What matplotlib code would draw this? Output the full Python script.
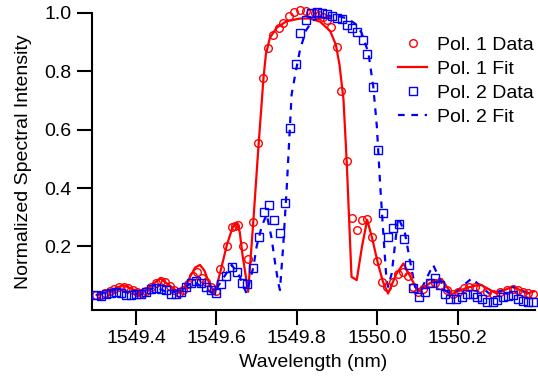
import matplotlib
matplotlib.use("Agg")
import matplotlib.pyplot as plt

plt.rcParams["font.family"] = ["Liberation Sans", "DejaVu Sans"]

# Pol. 1 measured spectrum
pol1_wl = [1549.301, 1549.312, 1549.323, 1549.335, 1549.346, 1549.358, 1549.369, 1549.381, 1549.392, 1549.403,
           1549.415, 1549.426, 1549.438, 1549.449, 1549.461, 1549.472, 1549.484, 1549.495, 1549.506, 1549.518,
           1549.529, 1549.541, 1549.552, 1549.564, 1549.575, 1549.587, 1549.598, 1549.609,
           1549.627, 1549.638, 1549.646, 1549.654, 1549.665, 1549.678, 1549.692, 1549.704, 1549.717, 1549.729,
           1549.741, 1549.756, 1549.766, 1549.781, 1549.794, 1549.808, 1549.822, 1549.833, 1549.845, 1549.856,
           1549.866, 1549.874, 1549.884, 1549.899, 1549.910, 1549.924, 1549.936, 1549.949, 1549.963, 1549.974,
           1549.987, 1550.000, 1550.012, 1550.025, 1550.038, 1550.052, 1550.065, 1550.077, 1550.090, 1550.102,
           1550.115, 1550.131, 1550.144, 1550.156, 1550.173, 1550.189, 1550.202, 1550.216, 1550.229, 1550.243,
           1550.256, 1550.272, 1550.289, 1550.305, 1550.322, 1550.338, 1550.351, 1550.363, 1550.376, 1550.388]
pol1_int = [0.034, 0.035, 0.040, 0.048, 0.055, 0.060, 0.062, 0.058, 0.050, 0.043,
            0.040, 0.048, 0.062, 0.076, 0.082, 0.078, 0.066, 0.052, 0.042, 0.050,
            0.072, 0.100, 0.114, 0.092, 0.080, 0.060, 0.048, 0.122,
            0.203, 0.268, 0.270, 0.274, 0.203, 0.156, 0.285, 0.554, 0.775, 0.880,
            0.923, 0.946, 0.966, 0.988, 1.003, 1.008, 1.005, 1.000, 0.998, 0.992,
            0.985, 0.976, 0.951, 0.884, 0.733, 0.491, 0.297, 0.257, 0.291, 0.293,
            0.234, 0.150, 0.079, 0.063, 0.079, 0.105, 0.113, 0.099, 0.062, 0.045,
            0.053, 0.076, 0.076, 0.068, 0.051, 0.039, 0.045, 0.057, 0.062, 0.062,
            0.057, 0.045, 0.039, 0.045, 0.051, 0.053, 0.051, 0.045, 0.042, 0.037]

# Pol. 1 fit
fit1_wl = [1549.302, 1549.335, 1549.368, 1549.390, 1549.414, 1549.435, 1549.460, 1549.485, 1549.509, 1549.522,
           1549.534, 1549.547, 1549.559, 1549.570, 1549.582, 1549.596, 1549.611, 1549.626, 1549.640, 1549.650,
           1549.658, 1549.665, 1549.679, 1549.692, 1549.704,
           1549.717, 1549.723, 1549.733, 1549.750, 1549.775, 1549.808, 1549.833, 1549.858, 1549.883, 1549.897,
           1549.906, 1549.916, 1549.924, 1549.936, 1549.949, 1549.962, 1549.975, 1549.987, 1550.002, 1550.014,
           1550.027, 1550.047, 1550.065, 1550.081, 1550.102, 1550.131, 1550.160, 1550.185, 1550.221, 1550.256,
           1550.297, 1550.335, 1550.375, 1550.392]
fit1_int = [0.034, 0.048, 0.068, 0.055, 0.039, 0.062, 0.091, 0.065, 0.040, 0.060,
            0.095, 0.128, 0.137, 0.118, 0.075, 0.039, 0.120, 0.205, 0.265, 0.282,
            0.250, 0.170, 0.045, 0.290, 0.531,
            0.775, 0.857, 0.914, 0.949, 0.971, 0.980, 0.980, 0.969, 0.937, 0.891,
            0.823, 0.703, 0.491, 0.096, 0.085, 0.200, 0.291, 0.230, 0.140, 0.080,
            0.039, 0.105, 0.142, 0.100, 0.045, 0.075, 0.089, 0.037, 0.058, 0.070,
            0.039, 0.062, 0.040, 0.047]

# Pol. 2 measured spectrum
pol2_wl = [1549.301, 1549.313, 1549.325, 1549.338, 1549.350, 1549.363, 1549.375, 1549.388, 1549.400, 1549.412,
           1549.425, 1549.437, 1549.450, 1549.462, 1549.475, 1549.487, 1549.499, 1549.512, 1549.524, 1549.537,
           1549.549, 1549.562, 1549.574, 1549.587, 1549.599, 1549.611, 1549.624, 1549.639, 1549.651, 1549.664,
           1549.677, 1549.692, 1549.705, 1549.718, 1549.731, 1549.744, 1549.758, 1549.771, 1549.784, 1549.797,
           1549.809, 1549.822, 1549.834, 1549.849, 1549.862, 1549.876, 1549.887, 1549.899, 1549.912, 1549.924,
           1549.936, 1549.949, 1549.964, 1549.975, 1549.989, 1550.001, 1550.014, 1550.027, 1550.039, 1550.053,
           1550.067, 1550.080, 1550.090, 1550.105, 1550.119, 1550.131, 1550.144, 1550.156, 1550.168, 1550.181,
           1550.196, 1550.210, 1550.224, 1550.237, 1550.249, 1550.260, 1550.274, 1550.289, 1550.299, 1550.312,
           1550.326, 1550.338, 1550.351, 1550.363, 1550.376, 1550.388]
pol2_int = [0.034, 0.030, 0.036, 0.041, 0.045, 0.040, 0.034, 0.034, 0.036, 0.039,
            0.045, 0.053, 0.057, 0.055, 0.050, 0.039, 0.037, 0.045, 0.062, 0.074,
            0.083, 0.074, 0.062, 0.051, 0.040, 0.070, 0.100, 0.131, 0.112, 0.076,
            0.070, 0.127, 0.232, 0.318, 0.342, 0.292, 0.245, 0.350, 0.605, 0.825,
            0.932, 0.975, 0.999, 1.003, 0.999, 0.995, 0.988, 0.982, 0.977, 0.957,
            0.948, 0.935, 0.908, 0.859, 0.745, 0.531, 0.314, 0.234, 0.262, 0.276,
            0.225, 0.137, 0.057, 0.028, 0.045, 0.075, 0.091, 0.068, 0.039, 0.019,
            0.022, 0.028, 0.037, 0.039, 0.028, 0.019, 0.010, 0.010, 0.016, 0.028,
            0.030, 0.034, 0.022, 0.014, 0.011, 0.011]

# Pol. 2 fit
fit2_wl = [1549.302, 1549.325, 1549.352, 1549.380, 1549.410, 1549.447, 1549.485, 1549.514, 1549.543, 1549.567,
           1549.592, 1549.614, 1549.638, 1549.657, 1549.675, 1549.692, 1549.700, 1549.713, 1549.725, 1549.737,
           1549.746, 1549.754, 1549.758, 1549.766, 1549.775, 1549.787, 1549.796, 1549.808, 1549.823, 1549.840,
           1549.863, 1549.895, 1549.927, 1549.947, 1549.961, 1549.978, 1549.990, 1549.999, 1550.007, 1550.015,
           1550.023, 1550.027, 1550.036, 1550.052, 1550.069, 1550.081, 1550.094, 1550.106, 1550.139, 1550.168,
           1550.186, 1550.235, 1550.280, 1550.338, 1550.380]
fit2_int = [0.034, 0.042, 0.051, 0.042, 0.034, 0.062, 0.039, 0.055, 0.079, 0.060,
            0.039, 0.085, 0.137, 0.100, 0.039, 0.130, 0.200, 0.270, 0.310, 0.230,
            0.143, 0.074, 0.051, 0.200, 0.404, 0.720, 0.788, 0.874, 0.940, 0.974,
            0.987, 0.991, 0.980, 0.960, 0.931, 0.863, 0.748, 0.611, 0.417, 0.245,
            0.085, 0.062, 0.108, 0.301, 0.245, 0.154, 0.062, 0.044, 0.137, 0.050,
            0.034, 0.091, 0.037, 0.062, 0.037]

fig = plt.figure(figsize=(5.38, 3.87), dpi=100)
ax = fig.add_axes([92 / 538, 1 - 310 / 387, 443 / 538, 297.3 / 387])

ax.plot(pol1_wl, pol1_int, "o", mfc="none", mec="red", mew=1.0, ms=5.5,
        label="Pol. 1 Data", clip_on=False, zorder=3)
ax.plot(fit1_wl, fit1_int, "-", color="red", lw=1.6, label="Pol. 1 Fit", zorder=2)
ax.plot(pol2_wl, pol2_int, "s", mfc="none", mec="blue", mew=1.0, ms=5.5,
        label="Pol. 2 Data", clip_on=False, zorder=3)
ax.plot(fit2_wl, fit2_int, color="blue", lw=1.6, linestyle=(0, (3, 3)),
        label="Pol. 2 Fit", zorder=2)

ax.set_xlim(1549.2906, 1550.3923)
ax.set_ylim(-0.0173, 1.0)
ax.set_xticks([1549.4, 1549.6, 1549.8, 1550.0, 1550.2])
ax.set_xticklabels(["1549.4", "1549.6", "1549.8", "1550.0", "1550.2"])
ax.set_yticks([0.2, 0.4, 0.6, 0.8, 1.0])
ax.set_yticklabels(["0.2", "0.4", "0.6", "0.8", "1.0"])

for side in ["top", "right"]:
    ax.spines[side].set_visible(False)
for side in ["left", "bottom"]:
    ax.spines[side].set_linewidth(1.5)
ax.tick_params(direction="out", length=10.5, width=1.5, labelsize=14, pad=4)

ax.set_xlabel("Wavelength (nm)", fontsize=14, labelpad=5)
ax.set_ylabel("Normalized Spectral Intensity", fontsize=14, labelpad=9)

ax.legend(loc="upper left", bbox_to_anchor=(398 / 538, 1 - 36 / 387),
          bbox_transform=fig.transFigure, frameon=False, fontsize=14,
          borderpad=0, borderaxespad=0, handlelength=1.5, handletextpad=0.5,
          labelspacing=0.33)

fig.savefig("out.png", dpi=100)
